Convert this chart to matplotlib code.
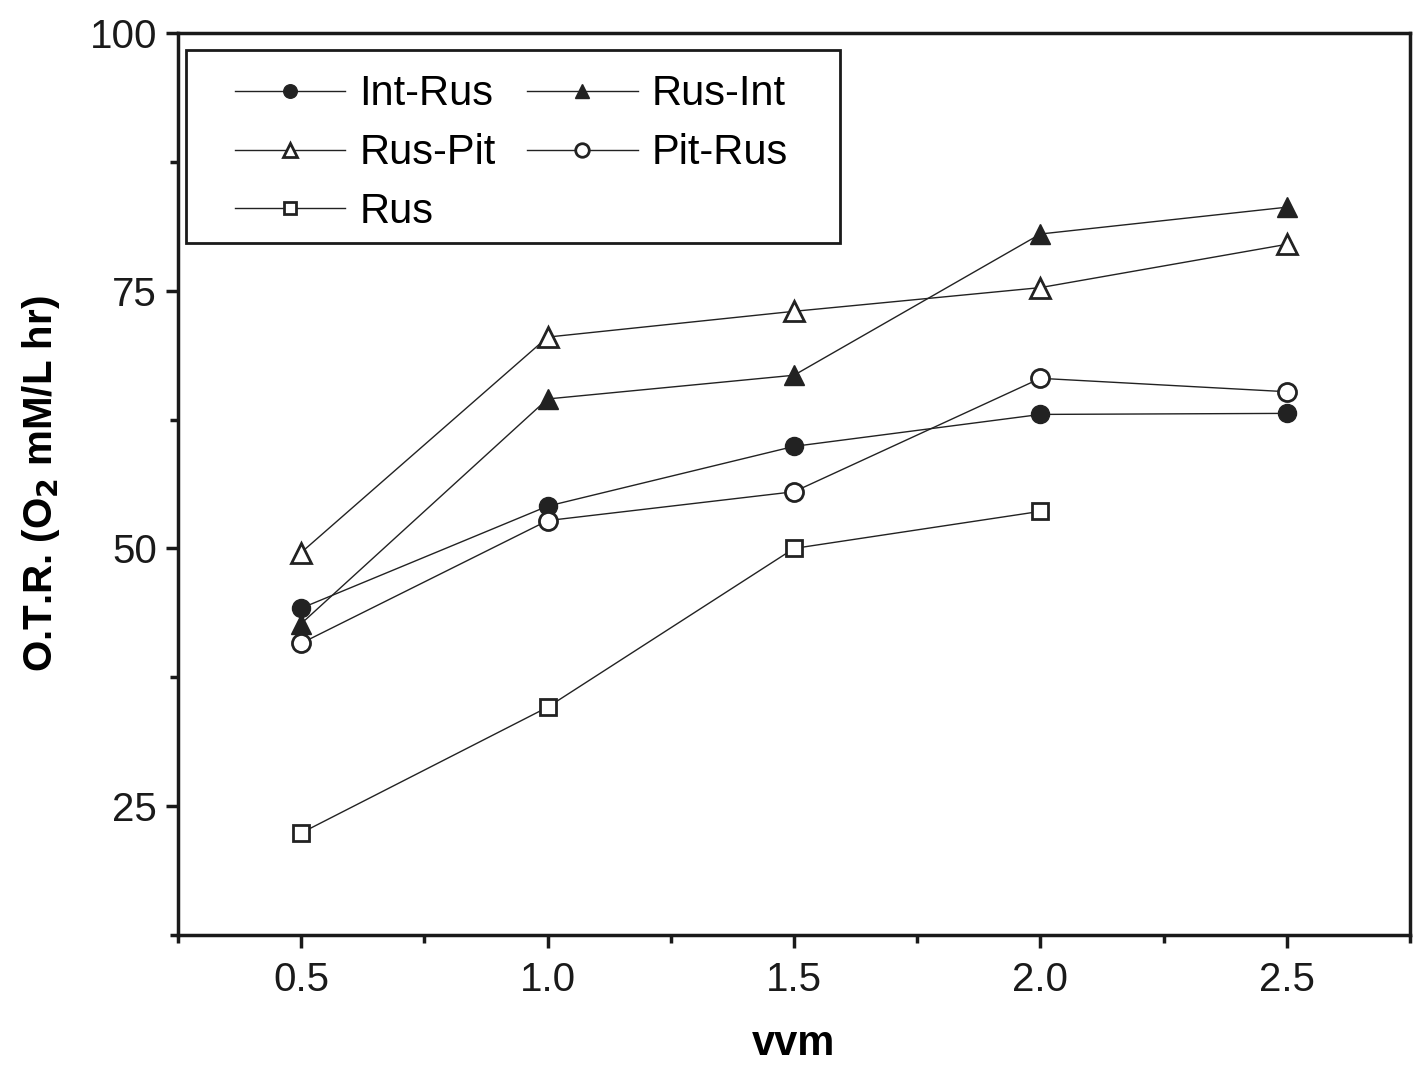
import matplotlib
matplotlib.use("Agg")
import matplotlib.pyplot as plt
from matplotlib.ticker import MultipleLocator
from matplotlib.patches import Rectangle

plt.rcParams['font.family'] = ['Liberation Sans', 'DejaVu Sans']

vvm = [0.5, 1.0, 1.5, 2.0, 2.5]
vvm_rus = [0.5, 1.0, 1.5, 2.0]
int_rus = [44.2, 54.1, 59.9, 63.0, 63.1]
rus_int = [42.7, 64.5, 66.8, 80.5, 83.1]
rus_pit = [49.6, 70.5, 73.0, 75.3, 79.5]
pit_rus = [40.8, 52.7, 55.5, 66.5, 65.2]
rus = [22.4, 34.6, 50.0, 53.6]

fig = plt.figure(figsize=(14.19, 10.77), dpi=100)
ax = fig.add_axes([0.1254, 0.1318, 0.8683, 0.8376])

lw = 1.0
ms = 13
c = '#222222'
h1, = ax.plot(vvm, int_rus, '-o', color=c, lw=lw, ms=ms, mfc=c, mec=c, label='Int-Rus')
h2, = ax.plot(vvm, rus_int, '-^', color=c, lw=lw, ms=ms+1, mfc=c, mec=c, label='Rus-Int')
h3, = ax.plot(vvm, rus_pit, '-^', color=c, lw=lw, ms=ms+1, mfc='white', mec=c, mew=2, label='Rus-Pit')
h4, = ax.plot(vvm, pit_rus, '-o', color=c, lw=lw, ms=ms, mfc='white', mec=c, mew=2, label='Pit-Rus')
h5, = ax.plot(vvm_rus, rus, '-s', color=c, lw=lw, ms=ms-1, mfc='white', mec=c, mew=2, label='Rus')

ax.set_xlim(0.25, 2.75)
ax.set_ylim(12.5, 100)
ax.xaxis.set_minor_locator(MultipleLocator(0.25))
ax.yaxis.set_minor_locator(MultipleLocator(12.5))
ax.set_xticks([0.5, 1.0, 1.5, 2.0, 2.5])
ax.set_xticklabels(['0.5', '1.0', '1.5', '2.0', '2.5'])
ax.set_yticks([25, 50, 75, 100])
ax.set_yticklabels(['25', '50', '75', '100'])

for s in ax.spines.values():
    s.set_linewidth(2.5)
    s.set_color('#1a1a1a')
ax.tick_params(which='major', direction='out', length=9, width=2.5, labelsize=29, pad=10, colors='#1a1a1a')
ax.tick_params(which='minor', direction='out', length=6, width=2.5, colors='#1a1a1a')
ax.tick_params(axis='x', which='both', top=False)
ax.tick_params(axis='y', which='both', right=False)
ax.tick_params(axis='y', which='major', pad=6)

ax.set_xlabel('vvm', fontsize=30, fontweight='bold', labelpad=18)
ax.set_ylabel('O.T.R. (O$_\\mathbf{2}$ mM/L hr)', fontsize=29, fontweight='bold', labelpad=20)

# legend frame (drawn separately for the wide horizontal padding of the original)
ax.add_patch(Rectangle((0.0065, 0.767), 0.5305, 0.214, transform=ax.transAxes,
                       fill=False, ec='#1a1a1a', lw=2.0, zorder=5, clip_on=False))
leg = ax.legend([h1, h3, h5, h2, h4], ['Int-Rus', 'Rus-Pit', 'Rus', 'Rus-Int', 'Pit-Rus'],
                ncol=2, loc='upper left', bbox_to_anchor=(0.046, 0.954), borderaxespad=0,
                fontsize=30, frameon=False, borderpad=0,
                handlelength=2.65, handletextpad=0.35, columnspacing=0.75,
                labelspacing=0.45, markerscale=0.75)

fig.savefig('out.png', dpi=100)
